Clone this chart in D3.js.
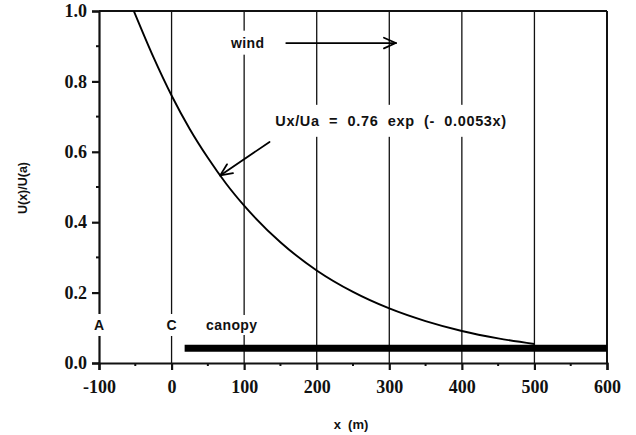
<!DOCTYPE html>
<html>
<head>
<meta charset="utf-8">
<script src="https://cdn.jsdelivr.net/npm/d3@7/dist/d3.min.js"></script>
<style>
  html, body { margin: 0; padding: 0; background: #fff; }
  svg { display: block; }
</style>
</head>
<body>
<svg id="chart" width="636" height="435"></svg>
<script>
// Wind speed ratio U(x)/U(a) with distance x from the canopy edge
const distance = [-52, -25, 0, 25, 50, 75, 100, 150, 200, 250, 300, 350, 400, 450, 500];
const speedRatio = [1.0, 0.869, 0.76, 0.665, 0.583, 0.510, 0.447, 0.343, 0.263, 0.202, 0.155, 0.119, 0.091, 0.070, 0.054];

const xTicks = [-100, 0, 100, 200, 300, 400, 500, 600];
const xMinorTicks = [-50, 50, 150, 250, 350, 450, 550];
const yTicks = [0.0, 0.2, 0.4, 0.6, 0.8, 1.0];
const yMinorTicks = [0.1, 0.3, 0.5, 0.7, 0.9];
const gridX = [0, 100, 200, 300, 400, 500, 600];

// Canopy extent along x and its drawn height
const canopyStart = 18, canopyEnd = 600, canopyLevel = 0.042;

const svg = d3.select("#chart");
const x = d3.scaleLinear().domain([-100, 600]).range([99, 607]);
const y = d3.scaleLinear().domain([0, 1]).range([363, 11]);

const sans = "'Liberation Sans', Arial, sans-serif";
const serif = "'Liberation Serif', 'Times New Roman', serif";

// vertical grid lines
svg.append("g").selectAll("line").data(gridX).join("line")
  .attr("x1", d => x(d)).attr("x2", d => x(d))
  .attr("y1", y(1)).attr("y2", y(0))
  .attr("stroke", "#111").attr("stroke-width", d => d === 600 ? 2 : 1.3);

// top border
svg.append("line")
  .attr("x1", x(-100)).attr("x2", x(600)).attr("y1", y(1)).attr("y2", y(1))
  .attr("stroke", "#111").attr("stroke-width", 2);

// left axis
const yAxis = d3.axisLeft(y).tickValues(yTicks).tickFormat(d3.format(".1f"))
  .tickSize(7).tickPadding(5);
const gy = svg.append("g").attr("transform", `translate(${x(-100)},0)`).call(yAxis);
gy.select(".domain").attr("stroke", "#111").attr("stroke-width", 2.2);
gy.selectAll(".tick line").attr("stroke", "#111").attr("stroke-width", 2.2);
gy.selectAll(".tick text").attr("font-family", serif).attr("font-weight", "bold")
  .attr("font-size", 18).attr("fill", "#111");
gy.selectAll(".minor").data(yMinorTicks).join("line").attr("class", "minor")
  .attr("x1", -3).attr("x2", 0).attr("y1", d => y(d)).attr("y2", d => y(d))
  .attr("stroke", "#111").attr("stroke-width", 2);

// bottom axis (plain hyphen for negative values)
const xAxis = d3.axisBottom(x).tickValues(xTicks).tickFormat(d => String(d))
  .tickSize(7).tickPadding(10);
const gx = svg.append("g").attr("transform", `translate(0,${y(0)})`).call(xAxis);
gx.select(".domain").attr("stroke", "#111").attr("stroke-width", 2.2);
gx.selectAll(".tick line").attr("stroke", "#111").attr("stroke-width", 2.2);
gx.selectAll(".tick text").attr("font-family", serif).attr("font-weight", "bold")
  .attr("font-size", 18).attr("fill", "#111");
gx.selectAll(".minor").data(xMinorTicks).join("line").attr("class", "minor")
  .attr("x1", d => x(d)).attr("x2", d => x(d)).attr("y1", 0).attr("y2", 3)
  .attr("stroke", "#111").attr("stroke-width", 2);

// canopy bar
svg.append("line")
  .attr("x1", x(canopyStart)).attr("x2", x(canopyEnd))
  .attr("y1", y(canopyLevel)).attr("y2", y(canopyLevel))
  .attr("stroke", "#000").attr("stroke-width", 7);

// decay curve
svg.append("path")
  .datum(distance.map((d, i) => [d, speedRatio[i]]))
  .attr("d", d3.line().x(d => x(d[0])).y(d => y(d[1])).curve(d3.curveMonotoneX))
  .attr("fill", "none").attr("stroke", "#000").attr("stroke-width", 1.9);

// labels with white backing so grid lines break around them
function label(text, xv, yv, opts = {}) {
  const g = svg.append("g");
  const t = g.append("text")
    .attr("x", x(xv)).attr("y", y(yv))
    .attr("text-anchor", opts.anchor || "middle")
    .attr("dominant-baseline", "central")
    .attr("font-family", sans).attr("font-weight", "bold")
    .attr("font-size", opts.size || 14).attr("fill", "#111")
    .attr("letter-spacing", opts.spacing || 0)
    .style("white-space", "pre")
    .text(text);
  const b = t.node().getBBox();
  const px = opts.padX ?? 2, py = opts.padY ?? 5;
  g.insert("rect", "text")
    .attr("x", b.x - px).attr("y", b.y - py)
    .attr("width", b.width + 2 * px).attr("height", b.height + 2 * py)
    .attr("fill", "#fff");
  return t;
}

label("A", -100, 0.108, { size: 14, padX: 3, padY: 3 });
label("C", 0, 0.108, { size: 14, padX: 3, padY: 3 });
label("canopy", 83, 0.108, { size: 14, spacing: 0.4, padX: 2, padY: 2 });
label("wind", 105, 0.91, { size: 14, spacing: 0.4, padX: 2, padY: 4 });
label("Ux/Ua  =  0.76  exp  (-  0.0053x)", 143, 0.688, { anchor: "start", size: 14.5, spacing: 0.65, padX: 2, padY: 8 });

// arrows with open heads
function arrow(x0, y0, x1, y1) {
  const X0 = x(x0), Y0 = y(y0), X1 = x(x1), Y1 = y(y1);
  const ang = Math.atan2(Y1 - Y0, X1 - X0);
  const len = 13, spread = 0.42;
  const g = svg.append("g").attr("stroke", "#000").attr("stroke-width", 1.8)
    .attr("fill", "none").attr("stroke-linecap", "round");
  g.append("line").attr("x1", X0).attr("y1", Y0).attr("x2", X1).attr("y2", Y1);
  [ang + spread, ang - spread].forEach(a => {
    g.append("line").attr("x1", X1).attr("y1", Y1)
      .attr("x2", X1 - len * Math.cos(a)).attr("y2", Y1 - len * Math.sin(a));
  });
}
arrow(158, 0.909, 309, 0.909);
arrow(135, 0.628, 67, 0.533);

// axis titles
svg.append("text")
  .attr("transform", `translate(23,188) rotate(-90)`)
  .attr("text-anchor", "middle").attr("dominant-baseline", "central")
  .attr("font-family", sans).attr("font-weight", "bold").attr("font-size", 12.5)
  .attr("fill", "#111").text("U(x)/U(a)");
svg.append("text")
  .attr("x", 351).attr("y", 424)
  .attr("text-anchor", "middle").attr("dominant-baseline", "central")
  .attr("font-family", sans).attr("font-weight", "bold").attr("font-size", 13)
  .attr("fill", "#111").style("white-space", "pre").text("x  (m)");
</script>
</body>
</html>
